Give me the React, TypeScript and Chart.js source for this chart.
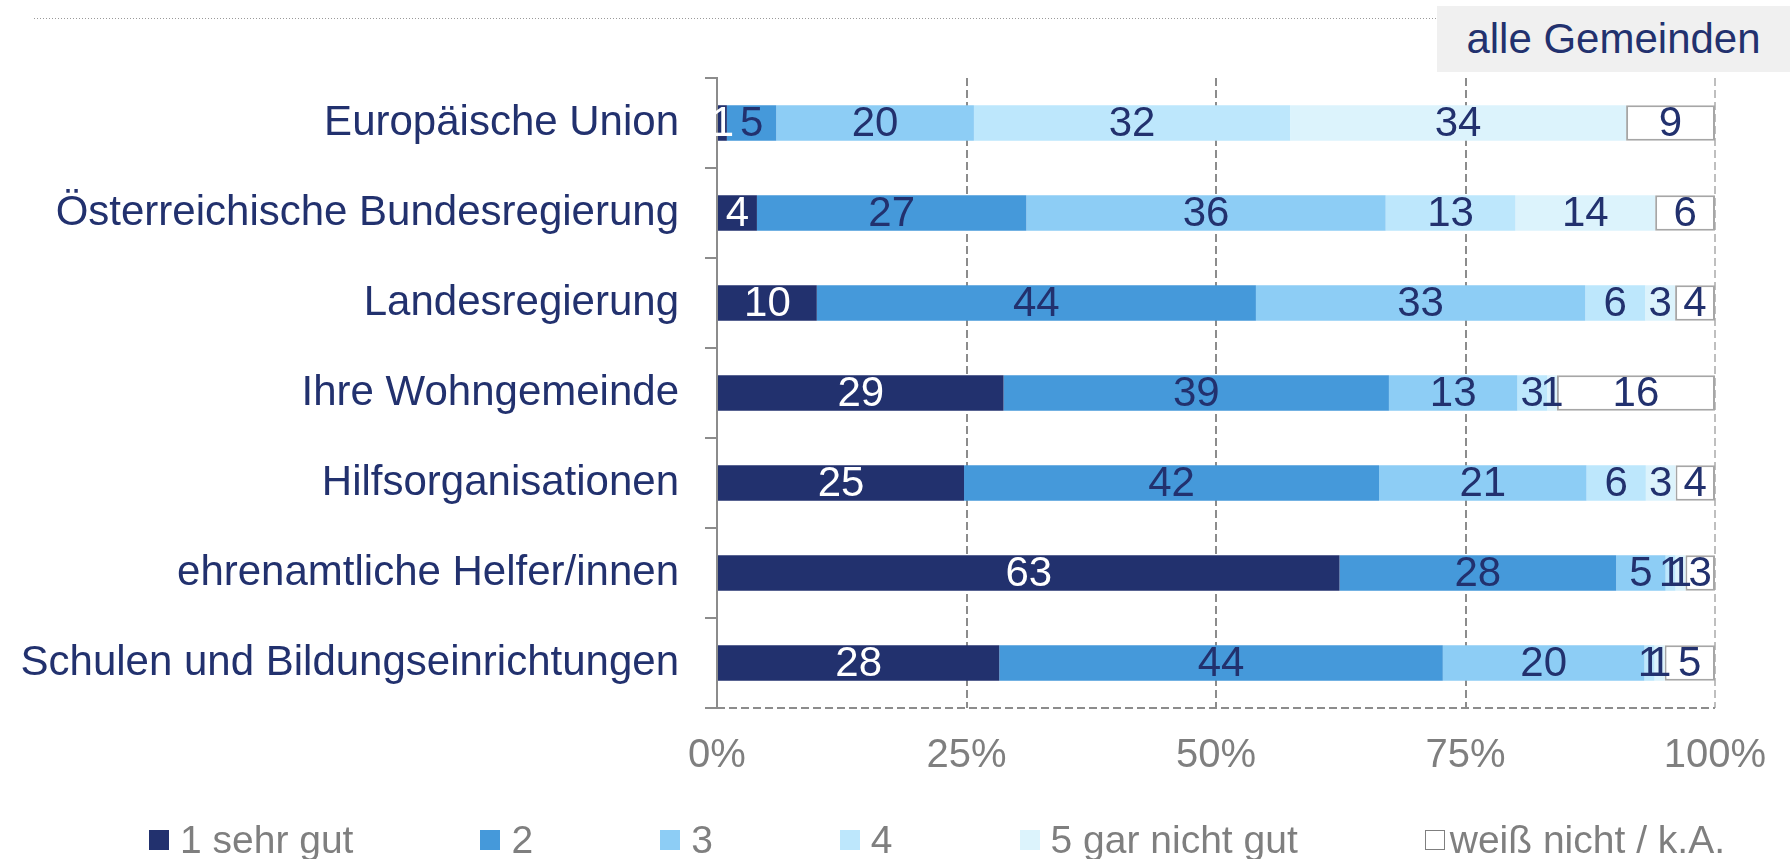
import React, { useEffect, useRef } from "react";
import { Chart, registerables } from "chart.js";

Chart.register(...registerables);

const categories = [
  "Europäische Union",
  "Österreichische Bundesregierung",
  "Landesregierung",
  "Ihre Wohngemeinde",
  "Hilfsorganisationen",
  "ehrenamtliche Helfer/innen",
  "Schulen und Bildungseinrichtungen",
];
const seriesNames = ["1 sehr gut", "2", "3", "4", "5 gar nicht gut", "weiß nicht / k.A."];
const sehrGut = [1, 4, 10, 29, 25, 63, 28];
const note2 = [5, 27, 44, 39, 42, 28, 44];
const note3 = [20, 36, 33, 13, 21, 5, 20];
const note4 = [32, 13, 6, 3, 6, 1, 1];
const garNichtGut = [34, 14, 3, 1, 3, 1, 1];
const weissNicht = [9, 6, 4, 16, 4, 3, 5];
const xTickValues = [0, 25, 50, 75, 100];
const panelLabel = "alle Gemeinden";

const seriesValues = [sehrGut, note2, note3, note4, garNichtGut, weissNicht];
const seriesColors = ["#22316E", "#4599DA", "#8DCDF5", "#BDE7FC", "#DCF3FC", "#FFFFFF"];

const NAVY = "#22316E";
const GRAY_TEXT = "#7F7F7F";
const FONT = "'Liberation Sans', Arial, Helvetica, sans-serif";

const rowTotals = categories.map((_, j) =>
  seriesValues.reduce((s, arr) => s + arr[j], 0)
);

const valueLabels = {
  id: "valueLabels",
  afterDatasetsDraw(chart: any) {
    const ctx = chart.ctx;
    ctx.save();
    ctx.font = `42px ${FONT}`;
    ctx.textAlign = "center";
    ctx.textBaseline = "middle";
    chart.data.datasets.forEach((_: any, i: number) => {
      const meta = chart.getDatasetMeta(i);
      const raw = seriesValues[i];
      meta.data.forEach((el: any, j: number) => {
        const p = el.getProps(["x", "y", "base"], true);
        ctx.fillStyle = i === 0 ? "#FFFFFF" : NAVY;
        ctx.fillText(String(raw[j]), (p.x + p.base) / 2, p.y + 1);
      });
    });
    ctx.restore();
  },
};

const bottomDashed = {
  id: "bottomDashed",
  beforeDatasetsDraw(chart: any) {
    const { ctx, chartArea } = chart;
    ctx.save();
    ctx.strokeStyle = "#8C8C8C";
    ctx.lineWidth = 2;
    ctx.setLineDash([8, 4]);
    ctx.beginPath();
    ctx.moveTo(chartArea.left - 12, chartArea.bottom);
    ctx.lineTo(chartArea.right, chartArea.bottom);
    ctx.stroke();
    ctx.restore();
  },
};

export default function App() {
  const canvasRef = useRef<HTMLCanvasElement>(null);

  useEffect(() => {
    document.body.style.margin = "0";
    Chart.defaults.font.family = FONT;
    const chart = new Chart(canvasRef.current as HTMLCanvasElement, {
      type: "bar",
      data: {
        labels: categories,
        datasets: seriesValues.map((vals, i) => ({
          label: seriesNames[i],
          data: vals.map((v, j) => (v / rowTotals[j]) * 100),
          backgroundColor: seriesColors[i],
          borderColor: i === 5 ? "#A6A6A6" : seriesColors[i],
          borderWidth: i === 5 ? 2 : 0,
          borderSkipped: false,
          barPercentage: 0.395,
          categoryPercentage: 1,
        })),
      },
      options: {
        indexAxis: "y",
        responsive: false,
        animation: false,
        layout: { padding: { top: 78, right: 75, bottom: 0, left: 0 } },
        plugins: {
          legend: { display: false },
          tooltip: { enabled: false },
          title: { display: false },
        },
        scales: {
          x: {
            type: "linear",
            stacked: true,
            min: 0,
            max: 100,
            afterBuildTicks: (scale: any) => {
              scale.ticks = xTickValues.map((v) => ({ value: v }));
            },
            afterFit: (scale: any) => {
              scale.height = 151;
              scale.paddingLeft = 0;
              scale.paddingRight = 0;
            },
            ticks: {
              color: GRAY_TEXT,
              font: { size: 40, family: FONT },
              padding: 24,
              callback: (v: any) => `${v}%`,
            },
            grid: {
              drawTicks: false,
              lineWidth: 2,
              color: (ctx: any) =>
                ctx.tick && ctx.tick.value === 0
                  ? "rgba(0,0,0,0)"
                  : ctx.tick && ctx.tick.value === 100
                  ? "#BFBFBF"
                  : "#8C8C8C",
            },
            border: { display: false, dash: [8, 4] },
          },
          y: {
            type: "category",
            stacked: true,
            offset: true,
            afterFit: (scale: any) => {
              scale.width = 717;
            },
            ticks: {
              color: NAVY,
              font: { size: 42, family: FONT },
              padding: 26,
            },
            grid: {
              offset: true,
              drawOnChartArea: false,
              drawTicks: true,
              tickLength: 12,
              tickColor: "#8C8C8C",
              lineWidth: 2,
              color: "#8C8C8C",
            },
            border: { display: true, color: "#8C8C8C", width: 2 },
          },
        },
      },
      plugins: [bottomDashed, valueLabels],
    } as any);
    return () => chart.destroy();
  }, []);

  return (
    <div style={{ position: "relative", width: 1790, height: 859, fontFamily: FONT, overflow: "hidden" }}>
      <canvas
        ref={canvasRef}
        width={1790}
        height={859}
        style={{ position: "absolute", left: 0, top: 0, width: 1790, height: 859 }}
      />
      <div
        style={{
          position: "absolute",
          left: 34,
          top: 18,
          width: 1402,
          height: 1,
          backgroundImage: "linear-gradient(to right, #9A9A9A 0 1px, transparent 1px 3px)",
          backgroundSize: "3px 1px",
        }}
      />
      <div
        style={{
          position: "absolute",
          left: 1437,
          top: 6,
          width: 353,
          height: 66,
          background: "#F0F0F0",
          color: NAVY,
          fontSize: 42,
          lineHeight: "66px",
          textAlign: "center",
          whiteSpace: "nowrap",
        }}
      >
        {panelLabel}
      </div>
      <div
        style={{
          position: "absolute",
          left: 149,
          top: 818,
          height: 44,
          display: "flex",
          alignItems: "center",
          gap: 127,
          fontSize: 39,
          lineHeight: "44px",
          color: GRAY_TEXT,
          whiteSpace: "nowrap",
        }}
      >
        {seriesNames.map((name, i) => (
          <div key={name} style={{ display: "flex", alignItems: "center" }}>
            <span
              style={{
                display: "inline-block",
                width: 20,
                height: 20,
                boxSizing: "border-box",
                background: seriesColors[i],
                border: i === 5 ? "1px solid #7F7F7F" : "none",
                marginRight: i === 5 ? 5 : 11,
              }}
            />
            <span>{name}</span>
          </div>
        ))}
      </div>
    </div>
  );
}
